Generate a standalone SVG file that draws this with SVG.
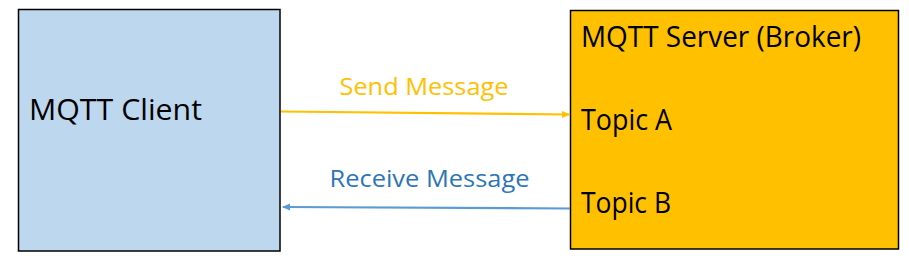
<svg xmlns="http://www.w3.org/2000/svg" width="909" height="259" viewBox="0 0 909 259">
<style>
.box{stroke:#000;stroke-width:1.5}
.t{font-family:"Open Sans","Noto Sans",sans-serif;fill:#000}
.lbl{font-family:"Open Sans","Noto Sans",sans-serif;font-size:24px}
</style>
<defs>
<marker id="ay" markerWidth="8" markerHeight="8" refX="7" refY="4" orient="auto" markerUnits="userSpaceOnUse"><path d="M0,0.5 L8,4 L0,7.5 Z" fill="#FFC000"/></marker>
<marker id="ab" markerWidth="8" markerHeight="8" refX="7" refY="4" orient="auto" markerUnits="userSpaceOnUse"><path d="M0,0.5 L8,4 L0,7.5 Z" fill="#5B9BD5"/></marker>
</defs>
<rect width="909" height="259" fill="#fff"/>
<g id="client">
<rect class="box" x="18.5" y="9.5" width="261.5" height="241.5" fill="#BDD7EE"/>
<text class="t" x="29" y="120" font-size="30" textLength="173" lengthAdjust="spacingAndGlyphs">MQTT Client</text>
</g>
<g id="server">
<rect class="box" x="570.5" y="10.5" width="328" height="238.5" fill="#FFC000"/>
<text class="t" x="581" y="47" font-size="28.5" textLength="280" lengthAdjust="spacingAndGlyphs">MQTT Server (Broker)</text>
<text class="t" x="581" y="129.5" font-size="28.5" textLength="91" lengthAdjust="spacingAndGlyphs">Topic A</text>
<text class="t" x="581" y="212.5" font-size="28.5" textLength="90" lengthAdjust="spacingAndGlyphs">Topic B</text>
</g>
<g id="connectors">
<line x1="281" y1="111.5" x2="569" y2="114.5" stroke="#FFC000" stroke-width="2.2" marker-end="url(#ay)"/>
<text class="lbl" x="339.5" y="95" fill="#FFC000" textLength="169" lengthAdjust="spacingAndGlyphs">Send Message</text>
<line x1="570" y1="208.5" x2="283" y2="207" stroke="#5B9BD5" stroke-width="2.2" marker-end="url(#ab)"/>
<text class="lbl" x="329.5" y="187" fill="#2E75B6" textLength="200" lengthAdjust="spacingAndGlyphs">Receive Message</text>
</g>
</svg>
